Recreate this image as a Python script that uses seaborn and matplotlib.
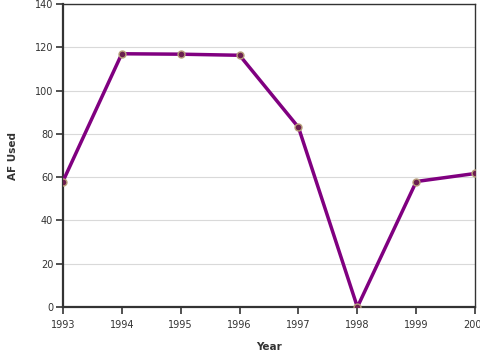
import matplotlib
matplotlib.use("Agg")
import matplotlib.pyplot as plt
import seaborn as sns
import pandas as pd

years = [1993, 1994, 1995, 1996, 1997, 1998, 1999, 2000]
af_used = [58, 117, 116.8, 116.3, 83, 0, 58, 61.7]

df = pd.DataFrame({"Year": years, "AF Used": af_used})

sns.set_style("white", {"xtick.bottom": True, "ytick.left": True})
plt.rcParams['font.family'] = ['DejaVu Sans']

fig = plt.figure(figsize=(4.8, 3.6), dpi=100)
ax = fig.add_axes([0.131, 0.147, 0.859, 0.842])

sns.lineplot(data=df, x="Year", y="AF Used", ax=ax, color="#800080", linewidth=2.5,
             marker="o", markersize=5, markerfacecolor="#6b1f4f",
             markeredgecolor="#b8a07a", markeredgewidth=1.0, zorder=3)

ax.set_xlim(1993, 2000)
ax.set_ylim(0, 140)
ax.set_yticks(range(0, 141, 20))
ax.set_xticks(years)
ax.set_xticklabels([str(y) for y in years])
ax.yaxis.grid(True, color="#d9d9d9", linewidth=0.8)
ax.xaxis.grid(False)
ax.set_axisbelow(True)

for side in ["left", "bottom"]:
    ax.spines[side].set_linewidth(1.6)
    ax.spines[side].set_color("#333333")
for side in ["top", "right"]:
    ax.spines[side].set_linewidth(1.0)
    ax.spines[side].set_color("#333333")

ax.tick_params(axis="both", which="major", bottom=True, left=True, length=5, width=1.2,
               color="#333333", labelsize=7, labelcolor="#333333", direction="out")
ax.tick_params(axis="x", pad=4)
ax.tick_params(axis="y", pad=2)
for lbl in ax.get_xticklabels() + ax.get_yticklabels():
    lbl.set_clip_on(False)

ax.set_xlabel("Year", fontsize=7.5, fontweight="bold", color="#333333", labelpad=9)
ax.set_ylabel("AF Used", fontsize=7.5, fontweight="bold", color="#333333", labelpad=12)

fig.savefig("out.png", dpi=100)
